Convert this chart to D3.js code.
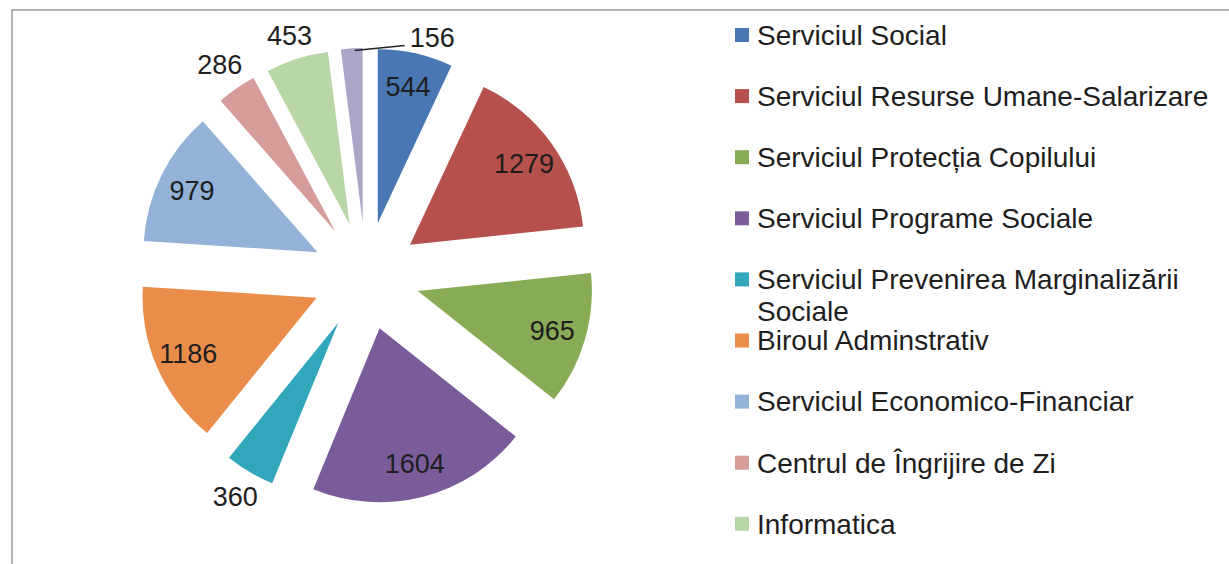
<!DOCTYPE html>
<html>
<head>
<meta charset="utf-8">
<script src="https://cdn.jsdelivr.net/npm/d3@7"></script>
<style>
  body { margin: 0; background: #fff; overflow: hidden; }
  text { font-family: "Liberation Sans", Arial, sans-serif; fill: #1e1e1e; }
</style>
</head>
<body>
<div id="chart"></div>
<script>
// Data
const categories = [
  "Serviciul Social",
  "Serviciul Resurse Umane-Salarizare",
  "Serviciul Protecția Copilului",
  "Serviciul Programe Sociale",
  "Serviciul Prevenirea Marginalizării Sociale",
  "Biroul Adminstrativ",
  "Serviciul Economico-Financiar",
  "Centrul de Îngrijire de Zi",
  "Informatica",
  "Altele"
];
const values = [544, 1279, 965, 1604, 360, 1186, 979, 286, 453, 156];
const colors = ["#4877b4", "#b5504d", "#88ab56", "#7b5c9b", "#32a6bb",
                "#ea8d4b", "#94b1d8", "#d69c9a", "#b8d6a6", "#aaa6c8"];
// labels drawn outside the slice
const outside = [false, false, false, false, true, false, false, true, true, true];

const width = 1229;
const height = 564;

const svg = d3.select("#chart")
  .append("svg")
  .attr("width", width)
  .attr("height", height);

// chart frame
svg.append("rect")
  .attr("x", 12)
  .attr("y", 10)
  .attr("width", width)
  .attr("height", height + 20)
  .attr("fill", "none")
  .attr("stroke", "#9a9a9a")
  .attr("stroke-width", 1.5);

// Pie
const cx = 366, cy = 276;
const R = 174;
const explode = 54;

const pie = d3.pie().sort(null).value(d => d);
const arcs = pie(values);
const arc = d3.arc().innerRadius(0).outerRadius(R);

function dir(a) {
  const m = (a.startAngle + a.endAngle) / 2;
  return [Math.sin(m), -Math.cos(m)];
}

const g = svg.append("g").attr("transform", `translate(${cx},${cy})`);

const slice = g.selectAll(".slice")
  .data(arcs)
  .enter()
  .append("g")
  .attr("transform", d => {
    const [dx, dy] = dir(d);
    return `translate(${dx * explode},${dy * explode})`;
  });

slice.append("path")
  .attr("d", arc)
  .attr("fill", (d, i) => colors[i]);

// Labels
slice.each(function(d, i) {
  const [dx, dy] = dir(d);
  const sel = d3.select(this);
  if (i === values.length - 1) {
    // small last slice: label moved aside with a leader line
    const x0 = dx * R, y0 = dy * R;
    sel.append("line")
      .attr("x1", x0 + 3).attr("y1", y0 + 2)
      .attr("x2", x0 + 53).attr("y2", y0 - 3)
      .attr("stroke", "#222")
      .attr("stroke-width", 1.5);
    sel.append("text")
      .attr("x", x0 + 58)
      .attr("y", y0 - 11)
      .attr("dy", "0.35em")
      .style("font-size", "27px")
      .text(values[i]);
    return;
  }
  const t = sel.append("text")
    .attr("dy", "0.35em")
    .attr("text-anchor", "middle")
    .style("font-size", "27px")
    .text(values[i]);
  let r = 140;
  if (outside[i]) {
    // put the label box just beyond the rim
    const w = t.node().getComputedTextLength();
    r = R + 8 + Math.abs(dx) * w / 2 + Math.abs(dy) * 10;
  }
  t.attr("x", dx * r).attr("y", dy * r);
});

// Legend
const legendX = 735;
const legendY = 35;
const rowH = 61.1;
const maxW = 470;

const legend = svg.append("g");

categories.forEach((name, i) => {
  const y = legendY + i * rowH;
  if (y + 14 > height) return; // row falls below the visible area
  legend.append("rect")
    .attr("x", legendX)
    .attr("y", y - 7)
    .attr("width", 14)
    .attr("height", 14)
    .attr("fill", colors[i]);

  const t = legend.append("text")
    .attr("x", legendX + 22)
    .attr("y", y)
    .attr("dy", "0.35em")
    .style("font-size", "28px");

  // simple word wrap
  const words = name.split(" ");
  let line = [];
  let ts = t.append("tspan").attr("x", legendX + 22);
  words.forEach(w => {
    line.push(w);
    ts.text(line.join(" "));
    if (ts.node().getComputedTextLength() > maxW && line.length > 1) {
      line.pop();
      ts.text(line.join(" "));
      line = [w];
      ts = t.append("tspan")
        .attr("x", legendX + 22)
        .attr("dy", 32)
        .text(w);
    }
  });
});
</script>
</body>
</html>
